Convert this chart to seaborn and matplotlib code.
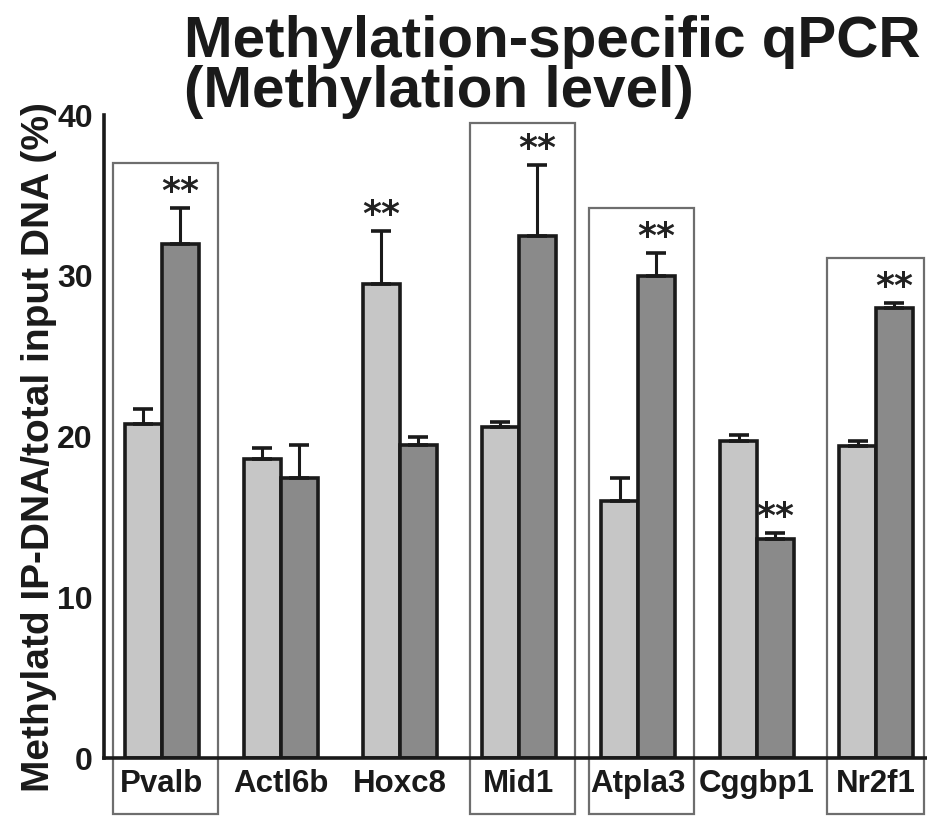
import matplotlib.pyplot as plt
import numpy as np
import pandas as pd
import seaborn as sns
from matplotlib.patches import Rectangle

# values
genes = ["Pvalb", "Actl6b", "Hoxc8", "Mid1", "Atpla3", "Cggbp1", "Nr2f1"]
light_vals = [20.8, 18.6, 29.5, 20.6, 16.0, 19.7, 19.4]
light_err = [0.9, 0.7, 3.3, 0.3, 1.4, 0.4, 0.3]
dark_vals = [32.0, 17.4, 19.5, 32.5, 30.0, 13.6, 28.0]
dark_err = [2.2, 2.1, 0.5, 4.4, 1.4, 0.4, 0.3]
# which bar carries the "**" (0 = light, 1 = dark, None = no mark)
sig_bar = [1, None, 0, 1, 1, 1, 1]
# genes framed with a box, and box tops (in % units)
boxed = {"Pvalb": 37.0, "Mid1": 39.5, "Atpla3": 34.2, "Nr2f1": 31.1}

df = pd.DataFrame({
    "gene": genes * 2,
    "group": ["light"] * len(genes) + ["dark"] * len(genes),
    "value": light_vals + dark_vals,
})

sns.set_style("white")
plt.rcParams['font.family'] = ['Liberation Sans', 'DejaVu Sans']
plt.rcParams['font.weight'] = 'bold'

fig = plt.figure(figsize=(9.28, 8.18), dpi=100)
ax = fig.add_axes([0.112, 0.0733, 0.888, 0.786])

sns.barplot(data=df, x="gene", y="value", hue="group", order=genes,
            hue_order=["light", "dark"], palette=["#c6c6c6", "#8a8a8a"],
            width=0.62, errorbar=None, edgecolor="#1a1a1a", linewidth=2.6,
            legend=False, ax=ax)

errs = [light_err, dark_err]
bar_conts = list(ax.containers)
tops = []
for k, cont in enumerate(bar_conts):
    xs = np.array([b.get_x() + b.get_width() / 2 for b in cont])
    ys = np.array([b.get_height() for b in cont])
    e = np.array(errs[k])
    ax.errorbar(xs, ys, yerr=[np.zeros_like(e), e], fmt='none', ecolor="#1a1a1a",
                elinewidth=2.2, capsize=7, capthick=2.6, zorder=1)
    tops.append((xs, ys + e))

for i, s in enumerate(sig_bar):
    if s is None:
        continue
    xs, ts = tops[s]
    ax.text(xs[i], ts[i] + 1.0, "**", ha='center', va='center',
            fontsize=26, color="#222222", family='DejaVu Sans')

# framing boxes around selected genes (reach down over the gene labels)
for g, top in boxed.items():
    i = genes.index(g)
    right = 0.40 if g == "Nr2f1" else 0.47
    ax.add_patch(Rectangle((i - 0.41, -3.5), 0.41 + right, top + 3.5,
                           fill=False, edgecolor="#6e6e6e", linewidth=1.6,
                           clip_on=False, zorder=0))

ax.set_xlim(-0.487, 6.437)
ax.set_ylim(0, 40)
ax.set_yticks([0, 10, 20, 30, 40])
ax.set_xticks(range(len(genes)))
ax.set_xticks(np.arange(0.5, len(genes) - 0.5, 1.0), minor=True)
ax.set_xlabel("")
ax.set_ylabel("")

ax.tick_params(axis='y', direction='inout', length=10, width=2.2,
               labelsize=23, pad=3, colors="#1a1a1a")
ax.tick_params(axis='x', which='major', length=0, labelsize=22.5, pad=8,
               colors="#1a1a1a")
ax.tick_params(axis='x', which='minor', direction='in', length=8, width=2.2,
               color="#1a1a1a")
for lab in ax.get_xticklabels() + ax.get_yticklabels():
    lab.set_fontweight('bold')

sns.despine(ax=ax)
for sp in ["left", "bottom"]:
    ax.spines[sp].set_linewidth(2.6)
    ax.spines[sp].set_color("#1a1a1a")

fig.text(0.042, 0.454, "Methylatd IP-DNA/total input DNA (%)", rotation=90,
         ha='center', va='center', fontsize=28, fontweight='bold',
         color="#1a1a1a")
fig.text(0.198, 0.982, "Methylation-specific qPCR\n(Methylation level)",
         ha='left', va='top', multialignment='left', linespacing=0.9,
         fontsize=42, fontweight='bold', color="#1a1a1a")

fig.savefig("out.png", dpi=100)
